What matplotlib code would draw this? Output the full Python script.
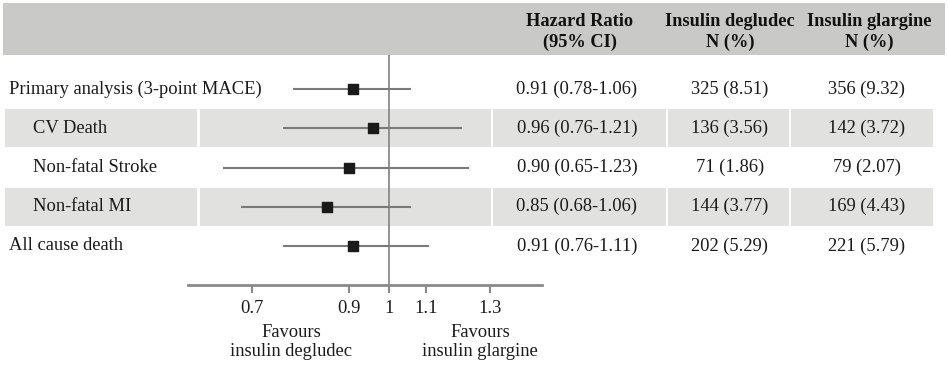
import matplotlib
matplotlib.use("Agg")
import matplotlib.pyplot as plt

plt.rcParams['font.family'] = ['Liberation Serif', 'DejaVu Serif']

# data
labels = ["Primary analysis (3-point MACE)", "CV Death", "Non-fatal Stroke",
          "Non-fatal MI", "All cause death"]
indent = [False, True, True, True, False]
hr = [0.91, 0.96, 0.90, 0.85, 0.91]
lo = [0.78, 0.76, 0.65, 0.68, 0.76]
hi = [1.06, 1.21, 1.23, 1.06, 1.11]
degludec = ["325 (8.51)", "136 (3.56)", "71 (1.86)", "144 (3.77)", "202 (5.29)"]
glargine = ["356 (9.32)", "142 (3.72)", "79 (2.07)", "169 (4.43)", "221 (5.79)"]
ticks = [0.7, 0.9, 1, 1.1, 1.3]
tick_labels = ["0.7", "0.9", "1", "1.1", "1.3"]

W, H = 948, 366
FS = 13.3
TXT = "#1a1a1a"
fig = plt.figure(figsize=(W / 100, H / 100), dpi=100)

# background axes in pixel coordinates
bg = fig.add_axes([0, 0, 1, 1])
bg.set_xlim(0, W)
bg.set_ylim(H, 0)
bg.axis("off")

bg.add_patch(plt.Rectangle((3, 3), 942, 52, color="#c9cac8", lw=0))
row_y = [89 + 39.25 * i for i in range(len(labels))]
segs = [(5, 197), (200, 491), (493, 666), (668, 789), (791, 933)]
for i in (1, 3):
    for a, b in segs:
        bg.add_patch(plt.Rectangle((a, row_y[i] - 19), b - a, 38,
                                   color="#e1e2e0", lw=0))

hdr = dict(ha="center", va="center", fontsize=13.2, fontweight="bold", color="#111")
bg.text(580, 22, "Hazard Ratio", **hdr)
bg.text(580, 42, "(95% CI)", **hdr)
bg.text(730, 22, "Insulin degludec", **hdr)
bg.text(730, 42, "N (%)", **hdr)
bg.text(869, 22, "Insulin glargine", **hdr)
bg.text(869, 42, "N (%)", **hdr)

for i, lab in enumerate(labels):
    y = row_y[i]
    bg.text(33 if indent[i] else 9, y, lab, ha="left", va="center",
            fontsize=FS, color=TXT)
    bg.text(577, y, f"{hr[i]:.2f} ({lo[i]:.2f}-{hi[i]:.2f})", ha="center",
            va="center", fontsize=FS, color=TXT)
    bg.text(730, y, degludec[i], ha="center", va="center", fontsize=FS, color=TXT)
    bg.text(867, y, glargine[i], ha="center", va="center", fontsize=FS, color=TXT)

bg.text(291, 342, "Favours\ninsulin degludec", ha="center", va="center",
        fontsize=FS, color=TXT, linespacing=1.2)
bg.text(480, 342, "Favours\ninsulin glargine", ha="center", va="center",
        fontsize=FS, color=TXT, linespacing=1.2)

# forest axes
ax = fig.add_axes([188 / W, 81 / H, 354 / W, 230 / H])
ax.patch.set_alpha(0)
ax.set_xscale("log")
ax.set_xlim(0.593, 1.488)
ax.set_ylim(4.99, -0.866)
for s in ("top", "right", "left"):
    ax.spines[s].set_visible(False)
ax.spines["bottom"].set_color("#8a8a8a")
ax.spines["bottom"].set_linewidth(2)
ax.set_yticks([])
ax.set_xticks(ticks)
ax.set_xticklabels(tick_labels)
ax.minorticks_off()
ax.tick_params(axis="x", direction="out", length=6, width=1.5, color="#8a8a8a",
               labelsize=FS, labelcolor=TXT, pad=5)
ax.axvline(1, color="#8a8a8a", lw=1.3, zorder=1)

ypos = list(range(len(labels)))
ax.hlines(ypos, lo, hi, color="#7a7a7a", lw=1.5, zorder=2)
ax.scatter(hr, ypos, marker="s", s=46, color="#1a1a1a", zorder=3)

fig.savefig("out.png", dpi=100)
